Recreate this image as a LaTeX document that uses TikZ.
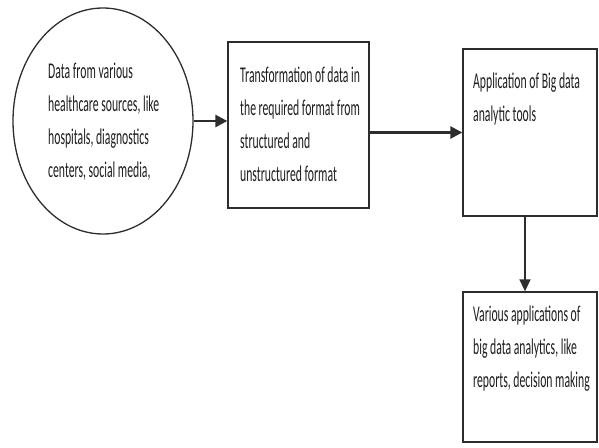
\documentclass[tikz,border=0pt]{standalone}
\usepackage{graphicx}
\usepackage{fontspec}
\setmainfont{Carlito}
\usetikzlibrary{shapes.geometric, arrows.meta, positioning, calc}
\definecolor{edgegray}{RGB}{45, 45, 45}
\definecolor{textgray}{RGB}{30, 30, 30}
\newcommand{\squash}[1]{\scalebox{0.52}[1]{\fontsize{22.5}{33}\selectfont\begin{tabular}[t]{@{}l@{}}#1\end{tabular}}}

\begin{document}
\begin{tikzpicture}[x=1pt, y=-1pt,
    source/.style={ellipse, draw=edgegray, line width=1.3pt, minimum width=180pt, minimum height=226pt, inner sep=0pt},
    stage/.style={rectangle, draw=edgegray, line width=1.3pt, minimum width=#1, inner sep=0pt},
    label/.style={anchor=base west, inner sep=0pt, text=textgray},
    arrow/.style={-{Triangle[length=12pt, width=12pt]}, line width=2.6pt, edgegray},
    thinarrow/.style={-{Triangle[length=12pt, width=11pt]}, line width=1.5pt, edgegray}
]
    \useasboundingbox (0,0) rectangle (599,447);

    % Source
    \node[source] (src) at (103,121) {};
    \node[label] (srctext) at (48,78) {\squash{Data from various\\healthcare sources, like\\hospitals, diagnostics\\centers, social media,}};

    % Transformation
    \node[stage=141pt, minimum height=166pt] (trans) at (298.5,125) {};
    \node[label] (transtext) at (240,82) {\squash{Transformation of data in\\the required format from\\structured and\\unstructured format}};

    % Analytic tools
    \node[stage=134pt, minimum height=167pt] (tools) at (530,132.5) {};
    \node[label] (toolstext) at (473,88) {\squash{Application of Big data\\analytic tools}};

    % Applications
    \node[stage=134pt, minimum height=150pt] (apps) at (530,367) {};
    \node[label] (appstext) at (473,321) {\squash{Various applications of\\big data analytics, like\\reports, decision making}};

    % Arrows
    \draw[arrow] (src.east) -- (src.east -| trans.west);
    \draw[arrow] (tools.west -| trans.east) -- (tools.west);
    \draw[thinarrow] ($(tools.south)+(-5,0)$) -- ($(apps.north)+(-5,0)$);
\end{tikzpicture}
\end{document}
